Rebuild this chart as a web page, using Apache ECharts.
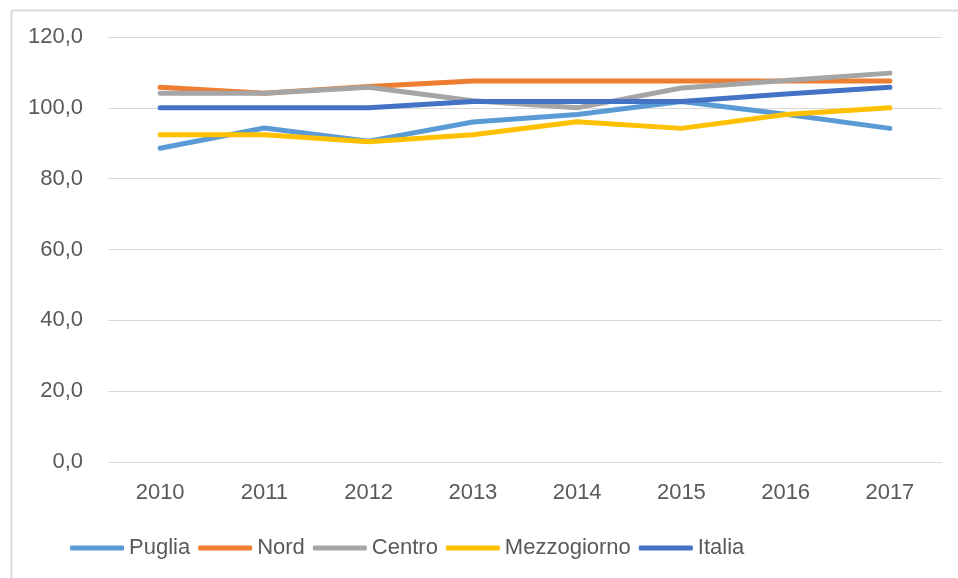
<!DOCTYPE html>
<html>
<head>
<meta charset="utf-8">
<script src="https://cdn.jsdelivr.net/npm/echarts@6/dist/echarts.min.js"></script>
<style>
    html, body { margin: 0; padding: 0; background: #fff; }
    #chart { width: 958px; height: 578px; }
</style>
</head>
<body>
<div id="chart"></div>
<script>
// categories and values
const years = ["2010", "2011", "2012", "2013", "2014", "2015", "2016", "2017"];
const puglia = [88.6, 94.3, 90.6, 96.0, 98.1, 101.8, 98.2, 94.2];
const nord = [105.8, 104.1, 106.0, 107.6, 107.6, 107.6, 107.6, 107.6];
const centro = [104.1, 104.1, 105.8, 102.0, 100.0, 105.6, 107.7, 109.8];
const mezzogiorno = [92.4, 92.4, 90.4, 92.4, 96.1, 94.2, 98.1, 100.0];
const italia = [100.0, 100.0, 100.0, 101.8, 101.8, 101.8, 103.9, 105.8];

const seriesNames = ["Puglia", "Nord", "Centro", "Mezzogiorno", "Italia"];
const seriesData = [puglia, nord, centro, mezzogiorno, italia];
const colorList = ["#5B9BD5", "#ED7D31", "#A5A5A5", "#FFC000", "#4472C4"];

const labelColor = "#595959";
const fontName = "'Liberation Sans', Arial, sans-serif";

let option = {
    color: colorList,
    animation: false,
    textStyle: { fontFamily: fontName },
    graphic: [
        {
            type: "rect",
            left: 9,
            top: 8,
            shape: { width: 960, height: 580 },
            style: { fill: "none", stroke: "#d9d9d9", lineWidth: 2 },
        },
    ],
    grid: {
        left: 108,
        right: 16,
        top: 37,
        bottom: 116,
    },
    legend: {
        left: 65,
        top: 532,
        icon: "roundRect",
        itemWidth: 54,
        itemHeight: 5,
        itemGap: 8,
        textStyle: {
            color: labelColor,
            fontSize: 22,
            fontFamily: fontName,
        },
        data: seriesNames,
    },
    xAxis: {
        type: "category",
        data: years,
        axisLine: { show: false },
        axisTick: { show: false },
        axisLabel: {
            color: labelColor,
            fontSize: 22,
            margin: 20,
        },
    },
    yAxis: {
        type: "value",
        min: 0,
        max: 120,
        interval: 20,
        axisLine: { show: false },
        axisTick: { show: false },
        axisLabel: {
            color: labelColor,
            fontSize: 22,
            margin: 25,
            formatter: (v) => v.toFixed(1).replace(".", ","),
        },
        splitLine: {
            lineStyle: { color: "#d9d9d9", width: 1 },
        },
    },
    series: [],
};

seriesNames.forEach((name, index) => {
    option.series.push({
        name: name,
        type: "line",
        data: seriesData[index],
        symbol: "none",
        lineStyle: { width: 5, cap: "round", join: "round" },
    });
});

let myChart = echarts.init(document.getElementById("chart"));
myChart.setOption(option);
</script>
</body>
</html>
